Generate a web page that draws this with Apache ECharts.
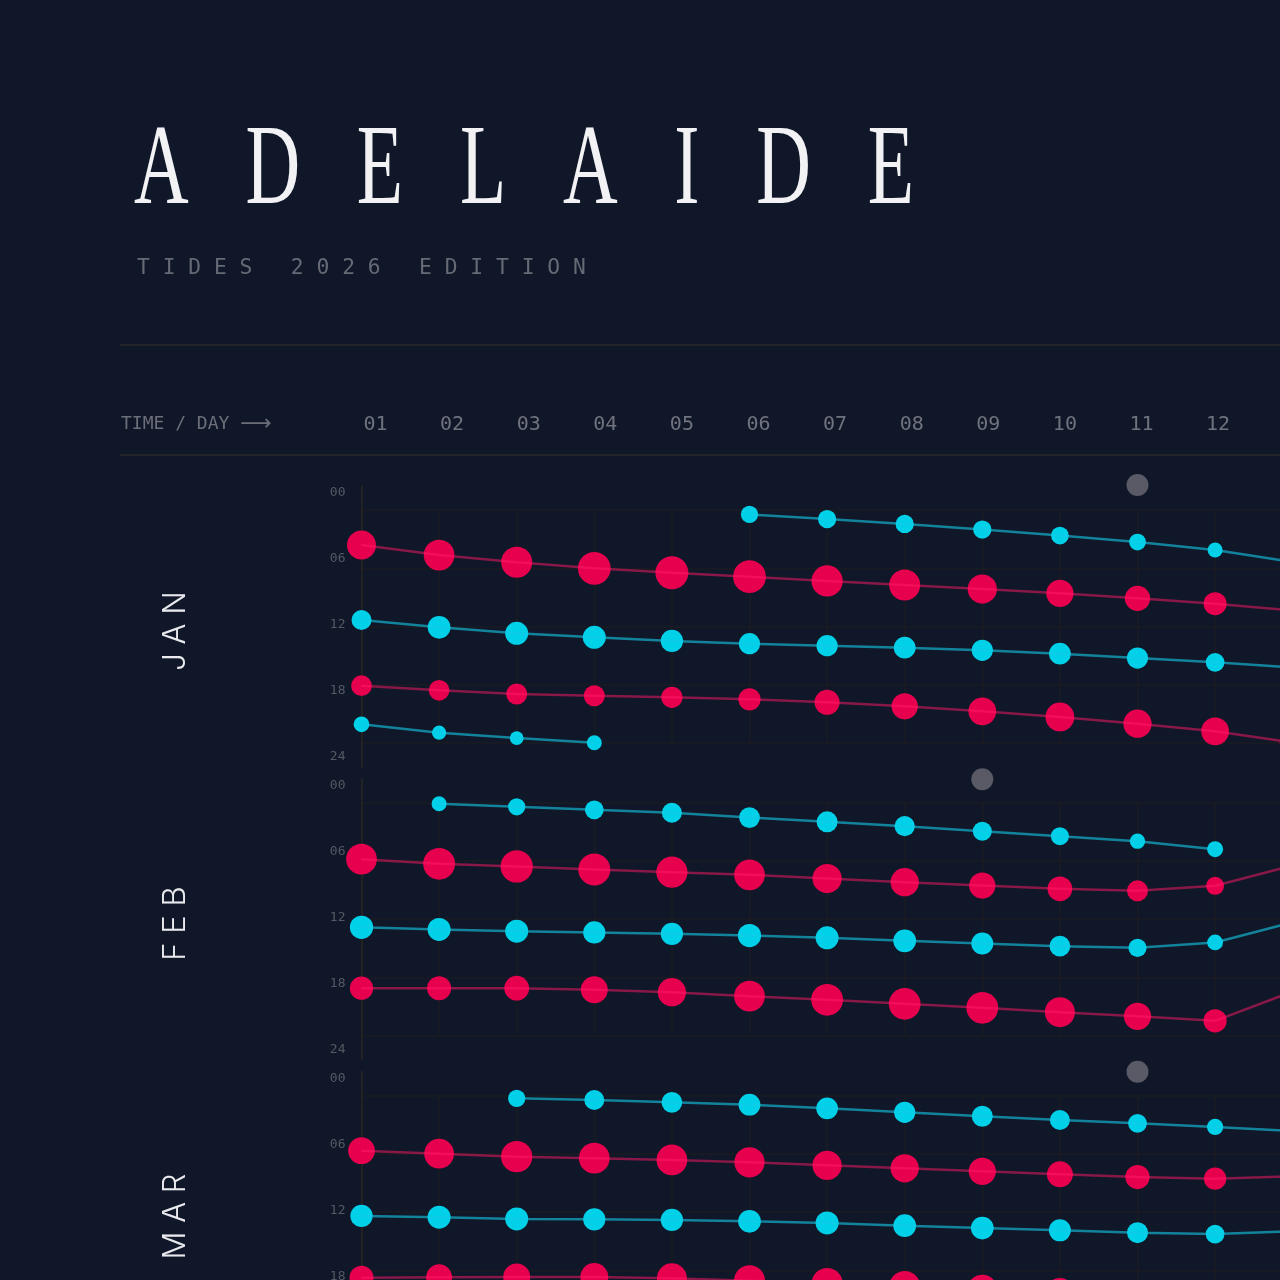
<!DOCTYPE html>
<html><head><meta charset="utf-8">
<script src="https://cdn.jsdelivr.net/npm/echarts@6/dist/echarts.min.js"></script>
<style>html,body{margin:0;padding:0;background:#0f1729;overflow:hidden;}#wrap{width:1280px;height:1280px;overflow:hidden;position:relative;}#c{width:1700px;height:1700px;}</style>
</head><body><div id="wrap"><div id="c"></div></div>
<script>
// ---------- DATA ----------
const dayMin = 1, dayMax = 16;
const hourTicks = [0, 6, 12, 18, 24];
const months = ['JAN', 'FEB', 'MAR'];
const moonDay = [11, 9, 11];
const moonHour = [-2.58, -2.4, -2.45];

// January chains: start day, tide time (hour), tide height (m)
const janA_start = 6;
const janA_hour = [0.46, 0.93, 1.44, 2.01, 2.63, 3.30, 4.12, 5.36];
const janA_m    = [1.38, 1.46, 1.46, 1.46, 1.42, 1.34, 1.20, 1.12];
const janB_start = 1;
const janB_hour = [3.61, 4.64, 5.39, 6.01, 6.46, 6.87, 7.31, 7.73, 8.14, 8.58, 9.10, 9.65, 10.34];
const janB_m    = [2.32, 2.46, 2.48, 2.62, 2.64, 2.62, 2.50, 2.48, 2.34, 2.18, 2.02, 1.84, 1.68];
const janC_start = 1;
const janC_hour = [11.33, 12.08, 12.70, 13.11, 13.49, 13.77, 13.98, 14.18, 14.45, 14.80, 15.25, 15.69, 16.22];
const janC_m    = [1.60, 1.82, 1.84, 1.84, 1.78, 1.70, 1.70, 1.74, 1.70, 1.74, 1.70, 1.50, 1.44];
const janD_start = 1;
const janD_hour = [18.10, 18.57, 18.95, 19.13, 19.29, 19.50, 19.81, 20.22, 20.74, 21.32, 22.01, 22.80, 23.95];
const janD_m    = [1.66, 1.66, 1.68, 1.68, 1.70, 1.78, 2.00, 2.10, 2.22, 2.30, 2.26, 2.22, 2.08];
const janE_start = 1;
const janE_hour = [22.07, 22.94, 23.49, 23.97];
const janE_m    = [1.26, 1.14, 1.10, 1.20];

// February
const febA_start = 2;
const febA_hour = [0.13, 0.44, 0.75, 1.06, 1.55, 1.99, 2.44, 2.96, 3.47, 3.99, 4.81];
const febA_m    = [1.20, 1.38, 1.50, 1.60, 1.66, 1.68, 1.62, 1.52, 1.44, 1.22, 1.28];
const febB_start = 1;
const febB_hour = [5.84, 6.31, 6.59, 6.90, 7.18, 7.45, 7.83, 8.21, 8.55, 8.89, 9.10, 8.58, 6.49];
const febB_m    = [2.46, 2.54, 2.58, 2.56, 2.50, 2.46, 2.34, 2.26, 2.10, 1.98, 1.68, 1.44, 1.60];
const febC_start = 1;
const febC_hour = [12.85, 13.08, 13.26, 13.39, 13.53, 13.70, 13.94, 14.25, 14.52, 14.80, 14.97, 14.42, 12.34];
const febC_m    = [1.86, 1.84, 1.84, 1.78, 1.78, 1.86, 1.84, 1.82, 1.76, 1.66, 1.46, 1.26, 1.36];
const febD_start = 1;
const febD_hour = [19.13, 19.13, 19.13, 19.29, 19.54, 19.95, 20.32, 20.74, 21.15, 21.60, 22.02, 22.49, 19.47];
const febD_m    = [1.86, 1.92, 1.98, 2.16, 2.26, 2.46, 2.54, 2.54, 2.54, 2.40, 2.18, 1.86, 1.76];

// March
const marA_start = 3;
const marA_hour = [0.29, 0.46, 0.70, 0.95, 1.32, 1.73, 2.14, 2.52, 2.86, 3.24, 3.66];
const marA_m    = [1.38, 1.60, 1.66, 1.74, 1.74, 1.70, 1.68, 1.60, 1.50, 1.30, 1.20];
const marB_start = 1;
const marB_hour = [5.69, 5.99, 6.30, 6.46, 6.64, 6.88, 7.19, 7.50, 7.81, 8.12, 8.40, 8.57, 8.32];
const marB_m    = [2.14, 2.38, 2.50, 2.46, 2.46, 2.42, 2.34, 2.26, 2.18, 2.08, 1.94, 1.78, 1.68];
const marC_start = 1;
const marC_hour = [12.41, 12.54, 12.72, 12.75, 12.82, 12.96, 13.13, 13.41, 13.65, 13.89, 14.13, 14.27, 13.99];
const marC_m    = [1.78, 1.84, 1.84, 1.78, 1.78, 1.82, 1.84, 1.82, 1.82, 1.76, 1.68, 1.50, 1.44];
const marD_start = 1;
const marD_hour = [18.77, 18.73, 18.70, 18.70, 18.83, 19.08, 19.37, 19.67, 20.00, 20.24, 20.65, 21.07, 21.48];
const marD_m    = [1.92, 2.08, 2.16, 2.24, 2.40, 2.48, 2.48, 2.48, 2.40, 2.24, 2.08, 1.92, 1.84];

const monthChains = [
  [['low', janA_start, janA_hour, janA_m], ['high', janB_start, janB_hour, janB_m], ['low', janC_start, janC_hour, janC_m], ['high', janD_start, janD_hour, janD_m], ['low', janE_start, janE_hour, janE_m]],
  [['low', febA_start, febA_hour, febA_m], ['high', febB_start, febB_hour, febB_m], ['low', febC_start, febC_hour, febC_m], ['high', febD_start, febD_hour, febD_m]],
  [['low', marA_start, marA_hour, marA_m], ['high', marB_start, marB_hour, marB_m], ['low', marC_start, marC_hour, marC_m], ['high', marD_start, marD_hour, marD_m]]
];

// ---------- STYLE / LAYOUT ----------
const BG = '#0f1729';
const MONO = '"DejaVu Sans Mono", monospace';
const RED = '#e6004e', CYAN = '#00d0e8';
const dataTop = [510, 802.5, 1095.5];
const dayStep = 77.6;
const pad2 = v => String(v).padStart(2, '0');

const grid = [{ left: 375.5, top: 397, width: 76.6 * (dayMax - dayMin), height: 10 }];
const xAxis = [{
  gridIndex: 0, type: 'value', min: dayMin, max: dayMax, interval: 1,
  axisLine: { show: false }, axisTick: { show: false }, splitLine: { show: false },
  axisLabel: { formatter: pad2, color: '#70737d', fontSize: 20, fontFamily: MONO, margin: 8 }
}];
const yAxis = [{ gridIndex: 0, type: 'value', show: false }];
const series = [];

months.forEach((m, mi) => {
  const gD = grid.length;
  grid.push({ left: 361.5, top: dataTop[mi], width: dayStep * (dayMax - dayMin), height: 233 });
  const gL = grid.length;
  grid.push({ left: 361.5, top: dataTop[mi] - 24, width: 10, height: 281 });
  xAxis.push({
    gridIndex: gD, type: 'value', min: dayMin, max: dayMax, interval: 1,
    axisLine: { show: false }, axisTick: { show: false }, axisLabel: { show: false },
    splitLine: { show: true, lineStyle: { color: '#1b1c21', width: 1.5 } }
  });
  yAxis.push({
    gridIndex: gD, type: 'value', min: 0, max: 24, interval: 6, inverse: true,
    axisLine: { show: false }, axisTick: { show: false }, axisLabel: { show: false },
    splitLine: { show: true, lineStyle: { color: '#1b1c21', width: 1.5 } }
  });
  xAxis.push({ gridIndex: gL, type: 'value', show: false, min: 0, max: 1 });
  yAxis.push({
    gridIndex: gL, type: 'value', min: -7 / 11, max: 24 + 10 / 11, inverse: true,
    axisLine: { show: true, lineStyle: { color: '#2a2622', width: 1.5 } },
    axisTick: { show: false }, splitLine: { show: false },
    axisLabel: { customValues: hourTicks, formatter: pad2, color: '#555963', fontSize: 13, fontFamily: MONO, margin: 16 }
  });
  const xi = xAxis.length - 2, yi = yAxis.length - 2;
  monthChains[mi].forEach(([type, start, hours, heights]) => {
    const data = hours.map((h, i) => [start + i, h, heights[i]]);
    const col = type === 'high' ? RED : CYAN;
    series.push({
      type: 'scatter', xAxisIndex: xi, yAxisIndex: yi, data, clip: false, z: 2,
      symbolSize: d => d[2] * 12.5, itemStyle: { color: col, opacity: 1 }, silent: true
    });
    series.push({
      type: 'line', xAxisIndex: xi, yAxisIndex: yi, data, showSymbol: false, z: 3, silent: true,
      lineStyle: { color: type === 'high' ? '#ff1a66' : '#14cbe8', width: 2.5, opacity: type === 'high' ? 0.5 : 0.6 }
    });
  });
  series.push({
    type: 'scatter', xAxisIndex: xi, yAxisIndex: yi, clip: false, silent: true,
    data: [[moonDay[mi], moonHour[mi]]], symbolSize: 22, itemStyle: { color: '#6b6c76' }
  });
});

const graphic = [
  { type: 'text', x: 134, y: 173.5, scaleX: 0.664, style: { text: 'A   D   E   L   A   I   D   E', font: '114px "Liberation Serif", serif', fill: '#f2f2f4', textVerticalAlign: 'middle' } },
  { type: 'text', x: 137, y: 268.5, style: { text: 'T I D E S   2 0 2 6   E D I T I O N', font: '21.3px ' + MONO, fill: '#666a75', textVerticalAlign: 'middle' } },
  { type: 'line', shape: { x1: 120, y1: 345, x2: 1280, y2: 345 }, style: { stroke: '#2b2a29', lineWidth: 1.5 } },
  { type: 'line', shape: { x1: 120, y1: 455, x2: 1280, y2: 455 }, style: { stroke: '#2b2a29', lineWidth: 1.5 } },
  { type: 'text', x: 121, y: 424, style: {
      text: '{a|TIME / DAY }{b|⟶}', fill: '#6c6f79', textVerticalAlign: 'middle',
      rich: { a: { font: '18px ' + MONO, fill: '#6c6f79' }, b: { font: '22px "DejaVu Sans", sans-serif', fill: '#6c6f79' } }
  } }
];
months.forEach((m, mi) => {
  graphic.push({
    type: 'text', x: 176, y: dataTop[mi] + 121, rotation: Math.PI / 2,
    style: { text: m.split('').join(' '), font: '300 31px Inter, "Noto Sans", sans-serif', fill: '#e9e9ee', textAlign: 'center', textVerticalAlign: 'middle' }
  });
});

const chart = echarts.init(document.getElementById('c'), null, { renderer: 'canvas' });
chart.setOption({ backgroundColor: BG, animation: false, grid, xAxis, yAxis, series, graphic });
</script></body></html>
